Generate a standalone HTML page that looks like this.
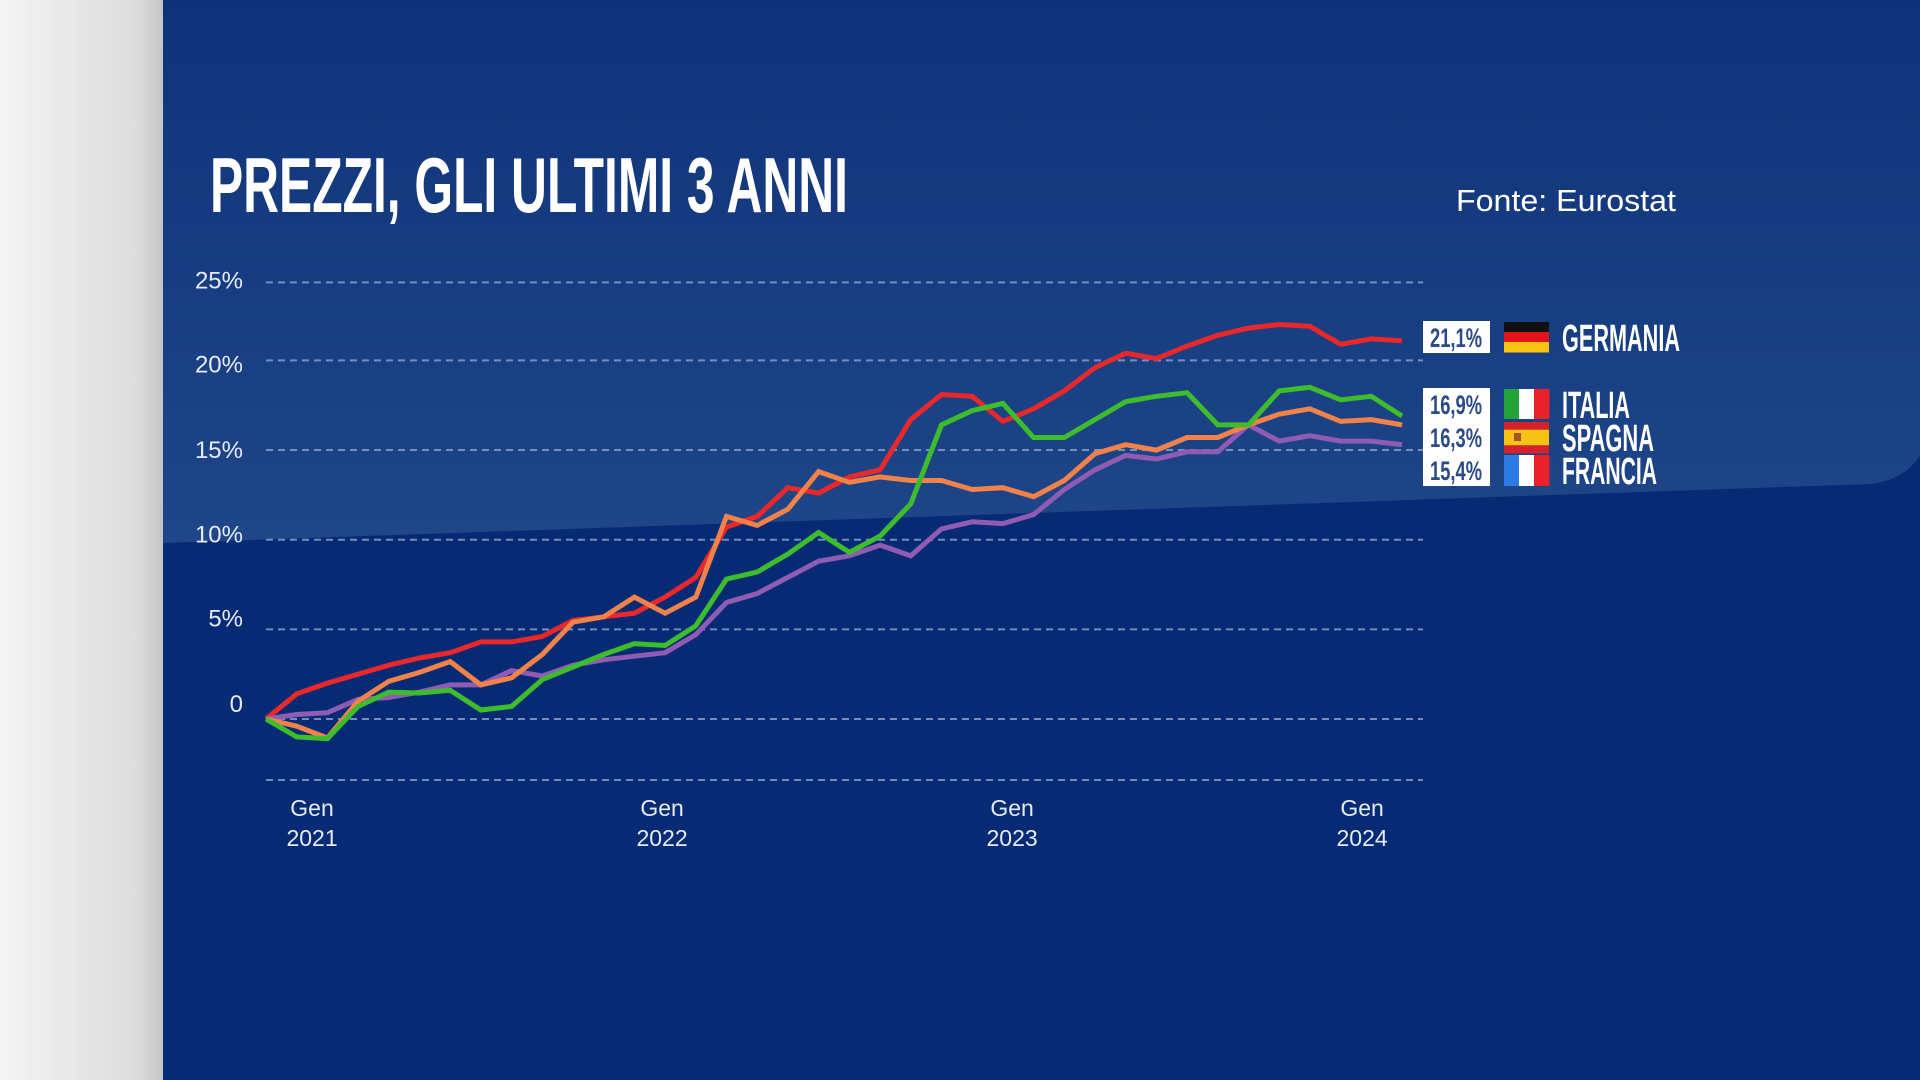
<!DOCTYPE html>
<html><head><meta charset="utf-8">
<style>
html,body{margin:0;padding:0;width:1920px;height:1080px;overflow:hidden;background:#062b74;}
svg{display:block}
</style></head>
<body>
<svg id="chart" width="1920" height="1080" viewBox="0 0 1920 1080" xmlns="http://www.w3.org/2000/svg">
<defs>
<linearGradient id="gray" x1="0" x2="1" y1="0" y2="0"><stop offset="0" stop-color="#f4f4f4"/><stop offset="0.85" stop-color="#dcdcdc"/><stop offset="1" stop-color="#c4c4c4"/></linearGradient>
<linearGradient id="band" x1="0" x2="0" y1="0" y2="1"><stop offset="0" stop-color="#0f3379"/><stop offset="1" stop-color="#1f4689"/></linearGradient>
</defs>
<rect x="0" y="0" width="1920" height="1080" fill="#062b74"/>
<path d="M163 0 H1920 V455 Q1905 480 1870 484 L163 543 Z" fill="url(#band)"/>
<rect x="0" y="0" width="163" height="1080" fill="url(#gray)"/>
<text x="210" y="212" fill="#ffffff" font-family="Liberation Sans, sans-serif" font-weight="bold" font-size="78" textLength="638" lengthAdjust="spacingAndGlyphs">PREZZI, GLI ULTIMI 3 ANNI</text>
<text x="1456" y="211" fill="#ffffff" font-family="Liberation Sans, sans-serif" font-size="31" textLength="220" lengthAdjust="spacingAndGlyphs">Fonte: Eurostat</text>
<g id="grid"></g>
<g id="lines"></g>
<g id="legend"></g>
</svg>
<script>
const months = 38;
const gridValues = [0, 5, 10, 15, 20, 24.35];
const gridLabels = ['0', '5%', '10%', '15%', '20%', '25%'];
const xLabelIdx = [1.5, 12.9, 24.3, 35.7];
const xLabelYears = ['2021', '2022', '2023', '2024'];
const germania = [0,1.4,2.0,2.5,3.0,3.4,3.7,4.3,4.3,4.6,5.5,5.7,5.9,6.8,7.9,10.7,11.3,12.9,12.6,13.5,13.9,16.7,18.1,18.0,16.6,17.3,18.3,19.6,20.4,20.1,20.8,21.4,21.8,22.0,21.9,20.9,21.2,21.1];
const italia = [0,-1.0,-1.1,0.7,1.5,1.45,1.6,0.5,0.7,2.2,2.9,3.6,4.2,4.1,5.2,7.8,8.2,9.2,10.4,9.3,10.2,12.0,16.4,17.2,17.6,15.7,15.7,16.7,17.7,18.0,18.2,16.4,16.4,18.3,18.5,17.8,18.0,16.9];
const spagna = [0,-0.4,-1.06,1.0,2.1,2.6,3.2,1.9,2.3,3.6,5.4,5.7,6.8,5.9,6.8,11.3,10.8,11.7,13.8,13.2,13.5,13.3,13.3,12.8,12.9,12.4,13.3,14.8,15.3,15.0,15.7,15.7,16.4,17.0,17.3,16.6,16.7,16.4];
const francia = [0,0.25,0.35,1.1,1.2,1.5,1.9,1.9,2.7,2.4,3.0,3.3,3.5,3.7,4.7,6.5,7.0,7.9,8.8,9.1,9.7,9.1,10.6,11.0,10.9,11.4,12.8,13.9,14.7,14.5,14.9,14.9,16.4,15.5,15.8,15.5,15.5,15.3];
const finalLabels = ['21,1%', '16,9%', '16,3%', '15,4%'];
const countries = ['GERMANIA', 'ITALIA', 'SPAGNA', 'FRANCIA'];

const NS = 'http://www.w3.org/2000/svg';
const X0 = 266, X1 = 1402, Y0 = 719, PER = 17.93;
function xs(i){ return X0 + i * (X1 - X0) / (months - 1); }
function ys(v){ return Y0 - v * PER; }
function mk(tag, attrs, parent){ const e = document.createElementNS(NS, tag); for (const k in attrs) e.setAttribute(k, attrs[k]); parent.appendChild(e); return e; }

const grid = document.getElementById('grid');
const labelOffsets = [-15, -11, -5, 0, 4, -2];
gridValues.forEach((v, k) => {
  const l = mk('line', {x1: 266, x2: 1423, y1: ys(v), y2: ys(v), stroke: '#8fa6cf', 'stroke-width': 2, 'stroke-dasharray': '7 5', opacity: 0.8}, grid);
  
  
  const t = mk('text', {x: 243, y: ys(v) + labelOffsets[k] + 8, fill: '#e6ebf5', 'font-family': 'Liberation Sans, sans-serif', 'font-size': 24, 'text-anchor': 'end'}, grid);
  t.textContent = gridLabels[k];
  
  
});
const bl = mk('line', {x1: 266, x2: 1423, y1: 780, y2: 780, stroke: '#8fa6cf', 'stroke-width': 2, 'stroke-dasharray': '7 5', opacity: 0.8}, grid);


xLabelIdx.forEach((ix, k) => {
  const t1 = mk('text', {x: xs(ix), y: 816, fill: '#e6ebf5', 'font-family': 'Liberation Sans, sans-serif', 'font-size': 23, 'text-anchor': 'middle'}, grid);
  t1.textContent = 'Gen';
  
  
  const t2 = mk('text', {x: xs(ix), y: 846, fill: '#e6ebf5', 'font-family': 'Liberation Sans, sans-serif', 'font-size': 23, 'text-anchor': 'middle'}, grid);
  t2.textContent = xLabelYears[k];
  
  
});

const lines = document.getElementById('lines');
const series = [[germania, '#e8282b', 'germania'], [francia, '#8f5bb3', 'francia'], [spagna, '#f0824a', 'spagna'], [italia, '#3ebd2c', 'italia']];
series.forEach(s => {
  const d = s[0].map((v, i) => (i ? 'L' : 'M') + xs(i).toFixed(1) + ' ' + ys(v).toFixed(1)).join(' ');
  const p = mk('path', {d: d, fill: 'none', stroke: s[1], 'stroke-width': 5, 'stroke-linejoin': 'miter'}, lines);
  
  
});

const lg = document.getElementById('legend');
const b1 = mk('rect', {x: 1423, y: 321, width: 67, height: 32, fill: '#ffffff'}, lg);


const b2 = mk('rect', {x: 1423, y: 388, width: 67, height: 98, fill: '#ffffff'}, lg);


const rowY = [337, 404, 437, 470];
rowY.forEach((y, k) => {
  const t = mk('text', {x: 1456, y: y + 10, fill: '#2b4a86', 'font-family': 'Liberation Sans, sans-serif', 'font-weight': 'bold', 'font-size': 27, 'text-anchor': 'middle', textLength: 52, lengthAdjust: 'spacingAndGlyphs'}, lg);
  t.textContent = finalLabels[k];
  
  
  const n = mk('text', {x: 1562, y: y + 14, fill: '#ffffff', 'font-family': 'Liberation Sans, sans-serif', 'font-weight': 'bold', 'font-size': 38, textLength: [118, 68, 92, 95][k], lengthAdjust: 'spacingAndGlyphs'}, lg);
  n.textContent = countries[k];
  
  
});
function flag(y, h, stripes, vertical, name){
  const g = mk('g', {}, lg);
  
  
  let off = 0;
  stripes.forEach(s => {
    if (vertical) mk('rect', {x: 1504 + off * 45, y: y, width: s[1] * 45 + 0.5, height: h, fill: s[0]}, g);
    else mk('rect', {x: 1504, y: y + off * h, width: 45, height: s[1] * h + 0.5, fill: s[0]}, g);
    off += s[1];
  });
  return g;
}
flag(322, 30, [['#111111', 1/3], ['#e3141b', 1/3], ['#f6c412', 1/3]], false, 'flag-germania');
flag(389, 30, [['#24a33a', 1/3], ['#ffffff', 1/3], ['#e9212a', 1/3]], true, 'flag-italia');
const es = flag(422, 31, [['#d4222c', 0.25], ['#f6c314', 0.5], ['#d4222c', 0.25]], false, 'flag-spagna');
mk('rect', {x: 1514, y: 433, width: 7, height: 8, fill: '#a3542a'}, es);
flag(455, 31, [['#2f7be6', 1/3], ['#ffffff', 1/3], ['#e9212a', 1/3]], true, 'flag-francia');
</script>
</body></html>
